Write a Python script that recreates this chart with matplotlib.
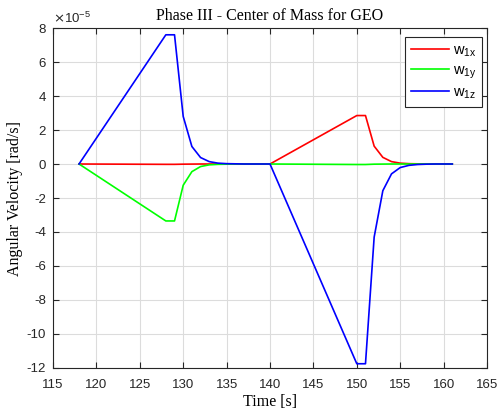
import matplotlib
matplotlib.use("Agg")
import matplotlib.pyplot as plt
import numpy as np

plt.rcParams['axes.unicode_minus'] = False

t = [118, 128, 129, 130, 131, 132, 133, 134, 135, 136, 137, 138, 139, 140,
     150, 151, 152, 153, 154, 155, 156, 157, 158, 159, 160, 161]
w1x = [0, -0.02, -0.02, -0.01, -0.005, 0, 0, 0, 0, 0, 0, 0, 0, 0,
       2.85, 2.85, 1.05, 0.39, 0.14, 0.05, 0.02, 0.01, 0, 0, 0, 0]
w1y = [0, -3.35, -3.35, -1.25, -0.45, -0.15, -0.05, -0.02, -0.01, 0, 0, 0, 0, 0,
       -0.03, -0.03, -0.01, -0.005, 0, 0, 0, 0, 0, 0, 0, 0]
w1z = [0, 7.6, 7.6, 2.8, 1.03, 0.38, 0.14, 0.05, 0.02, 0.01, 0, 0, 0, 0,
       -11.75, -11.75, -4.3, -1.57, -0.58, -0.21, -0.08, -0.03, -0.01, 0, 0, 0]
xticks = list(range(115, 166, 5))
yticks = list(range(-12, 9, 2))

fig = plt.figure(figsize=(4.98, 4.12), dpi=100)
ax = fig.add_axes([53/498, 1-368/412, (487-53)/498, (368-28)/412])

ax.plot(t, w1x, color=(1, 0, 0), lw=1.2, label=r'w$_{\mathregular{1x}}$')
ax.plot(t, w1y, color=(0, 1, 0), lw=1.2, label=r'w$_{\mathregular{1y}}$')
ax.plot(t, w1z, color=(0, 0, 1), lw=1.2, label=r'w$_{\mathregular{1z}}$')

ax.set_xlim(115, 165)
ax.set_ylim(-12, 8)
ax.set_xticks(xticks)
ax.set_yticks(yticks)
ax.grid(True, color='#dcdcdc', lw=0.8)
ax.set_axisbelow(True)
ax.tick_params(direction='in', top=True, right=True, length=4, width=0.8,
               labelsize=9.5, colors='#262626')
ax.tick_params(axis='x', pad=8)
ax.tick_params(axis='y', pad=5)
for lab in ax.get_xticklabels() + ax.get_yticklabels():
    lab.set_fontfamily('Liberation Sans')
for s in ax.spines.values():
    s.set_color('#262626')
    s.set_linewidth(0.8)

ax.text(0.0, 1.005, r'$\times$10$^{\mathregular{-5}}$', transform=ax.transAxes,
        fontsize=9.5, family='Liberation Sans', color='#262626', va='bottom', ha='left')
ax.set_title('Phase III - Center of Mass for GEO', family='Liberation Serif',
             fontsize=11.5, pad=6)
ax.set_xlabel('Time [s]', family='Liberation Serif', fontsize=11.5, labelpad=2)
ax.set_ylabel('Angular Velocity [rad/s]', family='Liberation Serif', fontsize=11.5, labelpad=3)

leg = ax.legend(loc='upper right', bbox_to_anchor=(0.9885, 0.973),
                prop={'family': 'Liberation Sans', 'size': 10.5},
                fancybox=False, edgecolor='#262626', handlelength=2.6,
                handletextpad=0.25, labelspacing=0.3, borderpad=0.4,
                borderaxespad=0, framealpha=1)
leg.get_frame().set_linewidth(0.8)

fig.savefig('out.png', dpi=100)
